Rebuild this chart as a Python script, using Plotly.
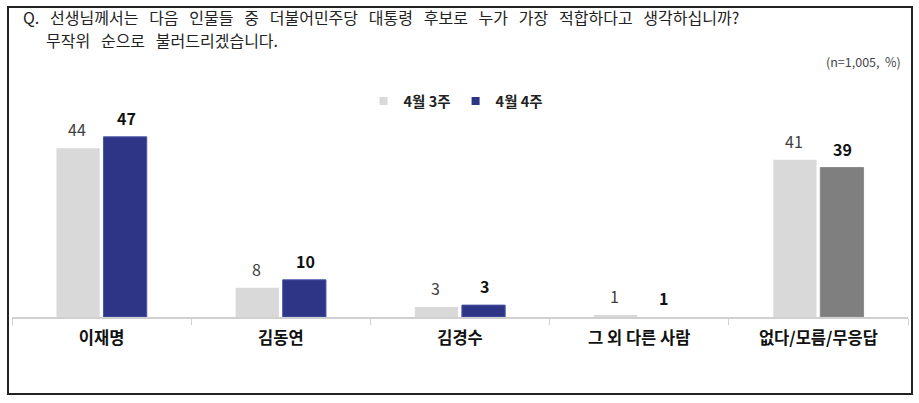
import plotly.graph_objects as go

categories = ["이재명", "김동연", "김경수", "그 외 다른 사람", "없다/모름/무응답"]
week3_values = [44, 7.6, 2.6, 0.5, 41]
week4_values = [47, 9.7, 3.1, 0, 39]
week3_labels = ["44", "8", "3", "1", "41"]
week4_labels = ["47", "10", "3", "1", "39"]
series_names = ["4월 3주", "4월 4주"]

FONT = "Noto Sans CJK KR"
LIGHT = "#D9D9D9"
DARK = "#2E3586"
GRAY = "#7F7F7F"

W, H = 919, 403
ML, MR, MT, MB = 12, 11, 87, 86
PW = W - ML - MR
PH = H - MT - MB


def px(x):
    return (x - ML) / PW


def py(y):
    return (H - MB - y) / PH


fig = go.Figure()
fig.add_trace(go.Bar(
    x=categories, y=week3_values, name=series_names[0], showlegend=False,
    marker=dict(color=LIGHT, line=dict(width=0)),
))
fig.add_trace(go.Bar(
    x=categories, y=week4_values, name=series_names[1], showlegend=False,
    marker=dict(color=[DARK, DARK, DARK, DARK, GRAY],
                line=dict(color=["#4A55A8"] * 3 + ["rgba(0,0,0,0)", "#8C8C8C"], width=1)),
))
# legend entries with small square markers
fig.add_trace(go.Scatter(x=[None], y=[None], mode="markers", name="<b>%s</b>" % series_names[0],
                         marker=dict(symbol="square", size=8, color=LIGHT)))
fig.add_trace(go.Scatter(x=[None], y=[None], mode="markers", name="<b>%s</b>" % series_names[1],
                         marker=dict(symbol="square", size=8, color=DARK)))

# value labels
for cat, v, t in zip(categories, week3_values, week3_labels):
    fig.add_annotation(x=cat, y=v, text=t, showarrow=False, xshift=-24.5, yshift=19,
                       yanchor="middle", font=dict(family=FONT, size=16, color="#404040"))
for cat, v, t in zip(categories, week4_values, week4_labels):
    fig.add_annotation(x=cat, y=v, text="<b>%s</b>" % t, showarrow=False, xshift=24.5, yshift=19,
                       yanchor="middle", font=dict(family=FONT, size=16, color="#111111"))

fig.update_layout(
    width=W, height=H,
    margin=dict(l=ML, r=MR, t=MT, b=MB),
    paper_bgcolor="white", plot_bgcolor="white",
    barmode="group", bargap=0.475, bargroupgap=0.08,
    font=dict(family=FONT, color="#222"),
    showlegend=True,
    legend=dict(orientation="h", x=px(456), xanchor="center", y=py(101), yanchor="middle",
                font=dict(family=FONT, size=14.5, color="#222"),
                itemwidth=30, traceorder="normal", bgcolor="rgba(0,0,0,0)"),
    xaxis=dict(showline=True, linecolor="#D0D0D0", linewidth=1.5,
               ticks="outside", tickson="boundaries", ticklen=6, tickcolor="#D0D0D0",
               tickfont=dict(family=FONT, size=16.5, color="#111"),
               tickvals=categories, ticktext=["<b>%s</b>" % c for c in categories],
               ticklabelstandoff=5, showgrid=False, automargin=False, fixedrange=True),
    yaxis=dict(range=[0, 60], visible=False, showgrid=False, automargin=False, fixedrange=True),
)

NB = "\u00a0"
line1_words = ["Q.", "선생님께서는", "다음", "인물들", "중", "더불어민주당", "대통령", "후보로",
               "누가", "가장", "적합하다고", "생각하십니까?"]
line2_words = ["무작위", "순으로", "불러드리겠습니다."]
sep = " " + NB * 2
fig.add_annotation(
    xref="paper", yref="paper", x=px(21), y=py(17), xanchor="left", yanchor="middle",
    text=sep.join(line1_words), showarrow=False, align="left",
    font=dict(family=FONT, size=16, color="#222"),
)
fig.add_annotation(
    xref="paper", yref="paper", x=px(44), y=py(40), xanchor="left", yanchor="middle",
    text=sep.join(line2_words), showarrow=False, align="left",
    font=dict(family=FONT, size=16, color="#222"),
)
fig.add_annotation(
    xref="paper", yref="paper", x=px(903), y=py(61), xanchor="right", yanchor="middle",
    text="(n=1,005,  %)", showarrow=False,
    font=dict(family=FONT, size=12.5, color="#444"),
)
fig.add_shape(
    type="rect", xref="paper", yref="paper",
    x0=px(8), x1=px(912), y0=py(394), y1=py(7),
    line=dict(color="#222", width=2), fillcolor="rgba(0,0,0,0)", layer="below",
)

fig.write_html("out.html", config={"displayModeBar": False},
               post_script="document.body.style.margin='0';document.body.style.overflow='hidden';")
